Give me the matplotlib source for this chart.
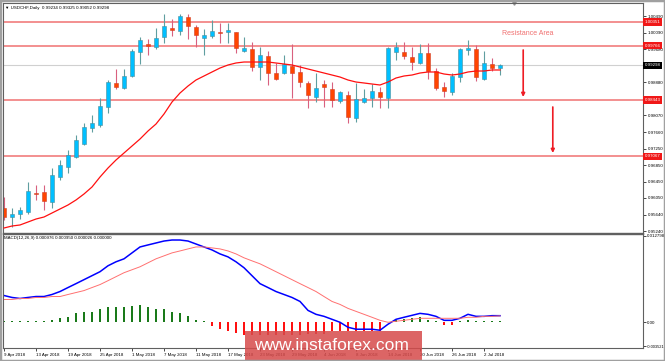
import numpy as np
import pandas as pd
import matplotlib
matplotlib.use('Agg')
import matplotlib.pyplot as plt
import matplotlib.transforms as mtransforms
from matplotlib.patches import Rectangle

plt.rcParams['font.family'] = ['Liberation Sans', 'DejaVu Sans']

# USDCHF daily candles, one per weekday from 9 Apr 2018
opens = [0.95803, 0.95583, 0.95657, 0.95706, 0.96170, 0.96195, 0.95950, 0.96561, 0.96806, 0.97050,
         0.97368, 0.97759, 0.97833, 0.98273, 0.98860, 0.98737, 0.99031, 0.99618, 0.99813, 0.99740,
         0.99984, 1.00204, 1.00131, 1.00473, 1.00229, 0.99960, 1.00009, 1.00107, 1.00107, 1.00107,
         0.99642, 0.99691, 0.99251, 0.99520, 0.99104, 0.99104, 0.99275, 0.99129, 0.98860, 0.98517,
         0.98835, 0.98713, 0.98420, 0.98566, 0.98003, 0.98395, 0.98493, 0.98640, 0.98493, 0.99618,
         0.99618, 0.99495, 0.99349, 0.99593, 0.99153, 0.98762, 0.98640, 0.99006, 0.99667, 0.99691,
         0.98957, 0.99324, 0.99234]
highs = [0.96072, 0.95803, 0.95828, 0.96439, 0.96366, 0.96366, 0.96781, 0.96977, 0.97221, 0.97588,
         0.97882, 0.98077, 0.98493, 0.98933, 0.99202, 0.99202, 0.99691, 0.99984, 0.99935, 1.00204,
         1.00547, 1.00424, 1.00547, 1.00547, 1.00278, 1.00180, 1.00400, 1.00327, 1.00327, 1.00107,
         0.99984, 0.99862, 0.99740, 0.99642, 0.99349, 0.99544, 0.99813, 0.99300, 0.98909, 0.99104,
         0.98933, 0.98884, 0.98664, 0.98664, 0.98860, 0.98713, 0.98835, 0.98762, 0.99740, 0.99862,
         0.99862, 0.99740, 0.99813, 0.99838, 0.99226, 0.98884, 0.99104, 0.99715, 0.99911, 0.99789,
         0.99642, 0.99471, 0.99325]
lows = [0.95510, 0.95339, 0.95534, 0.95657, 0.95999, 0.95755, 0.95803, 0.96488, 0.96659, 0.97026,
        0.97344, 0.97662, 0.97784, 0.98126, 0.98713, 0.98713, 0.99006, 0.99324, 0.99544, 0.99691,
        0.99838, 1.00009, 1.00033, 0.99935, 0.99740, 0.99544, 0.99960, 0.99838, 0.99838, 0.99593,
        0.99618, 0.99153, 0.98933, 0.98811, 0.98933, 0.99080, 0.98493, 0.98762, 0.98248, 0.98395,
        0.98273, 0.98273, 0.98371, 0.97882, 0.97906, 0.98371, 0.98273, 0.98248, 0.98248, 0.99422,
        0.99446, 0.99178, 0.99324, 0.98957, 0.98689, 0.98517, 0.98566, 0.98884, 0.99544, 0.98909,
        0.98933, 0.99153, 0.99052]
closes = [0.95583, 0.95657, 0.95755, 0.96219, 0.96146, 0.95975, 0.96610, 0.96855, 0.97099, 0.97466,
          0.97784, 0.97882, 0.98297, 0.98884, 0.98762, 0.99031, 0.99642, 0.99911, 0.99764, 0.99960,
          1.00253, 1.00156, 1.00497, 1.00253, 1.00033, 1.00033, 1.00131, 1.00082, 1.00156, 0.99715,
          0.99715, 0.99251, 0.99544, 0.99104, 0.98957, 0.99324, 0.99104, 0.98884, 0.98566, 0.98737,
          0.98762, 0.98444, 0.98640, 0.98028, 0.98468, 0.98493, 0.98664, 0.98517, 0.99715, 0.99740,
          0.99520, 0.99373, 0.99593, 0.99153, 0.98737, 0.98664, 0.99031, 0.99691, 0.99715, 0.99006,
          0.99349, 0.99226, 0.99298]
moving_avg = [0.95314, 0.95363, 0.95388, 0.95461, 0.95534, 0.95583, 0.95681, 0.95779, 0.95877, 0.95999,
              0.96146, 0.96317, 0.96561, 0.96781, 0.96977, 0.97148, 0.97319, 0.97490, 0.97686, 0.97857,
              0.98102, 0.98395, 0.98615, 0.98786, 0.98933, 0.99031, 0.99129, 0.99226, 0.99300, 0.99349,
              0.99373, 0.99373, 0.99373, 0.99373, 0.99349, 0.99324, 0.99300, 0.99251, 0.99202, 0.99153,
              0.99104, 0.99055, 0.99006, 0.98933, 0.98884, 0.98860, 0.98835, 0.98811, 0.98884, 0.98982,
              0.99031, 0.99055, 0.99104, 0.99129, 0.99129, 0.99080, 0.99055, 0.99080, 0.99129, 0.99153,
              0.99153, 0.99178, 0.99178]

# MACD(12,26,9)
macd_main = [0.00397, 0.00368, 0.00353, 0.00368, 0.00382, 0.00382, 0.00412, 0.00456, 0.00515, 0.00573,
             0.00632, 0.00691, 0.00750, 0.00838, 0.00897, 0.00941, 0.01029, 0.01117, 0.01147, 0.01176,
             0.01205, 0.01220, 0.01220, 0.01205, 0.01161, 0.01117, 0.01073, 0.01014, 0.00970, 0.00897,
             0.00809, 0.00691, 0.00573, 0.00515, 0.00456, 0.00412, 0.00368, 0.00309, 0.00176, 0.00118,
             0.00088, 0.00044, 0.00000, -0.00074, -0.00103, -0.00103, -0.00103, -0.00118, -0.00029, 0.00044,
             0.00074, 0.00103, 0.00132, 0.00118, 0.00088, 0.00029, 0.00029, 0.00059, 0.00118, 0.00088,
             0.00088, 0.00098, 0.000976]
macd_signal = [0.00338, 0.00338, 0.00353, 0.00353, 0.00368, 0.00368, 0.00382, 0.00382, 0.00412, 0.00441,
               0.00470, 0.00515, 0.00559, 0.00617, 0.00676, 0.00735, 0.00779, 0.00823, 0.00882, 0.00941,
               0.00985, 0.01029, 0.01058, 0.01088, 0.01117, 0.01117, 0.01103, 0.01088, 0.01058, 0.01014,
               0.00956, 0.00911, 0.00867, 0.00809, 0.00750, 0.00691, 0.00632, 0.00573, 0.00515, 0.00456,
               0.00382, 0.00309, 0.00265, 0.00206, 0.00162, 0.00118, 0.00074, 0.00029, 0.00000, 0.00015,
               0.00029, 0.00044, 0.00059, 0.00059, 0.00059, 0.00059, 0.00059, 0.00059, 0.00074, 0.00074,
               0.00088, 0.00088, 0.00095]
macd_hist = [0.00015, 0.00015, 0.00015, 0.00015, 0.00015, 0.00015, 0.00034, 0.00059, 0.00084, 0.00132,
             0.00157, 0.00157, 0.00191, 0.00221, 0.00221, 0.00221, 0.00240, 0.00250, 0.00231, 0.00201,
             0.00191, 0.00157, 0.00132, 0.00098, 0.00034, 0.00015, -0.00059, -0.00103, -0.00122, -0.00162,
             -0.00187, -0.00187, -0.00187, -0.00185, -0.00185, -0.00184, -0.00184, -0.00182, -0.00180, -0.00178,
             -0.00175, -0.00132, -0.00132, -0.00132, -0.00132, -0.00132, -0.00132, -0.00132, 0.00003, 0.00040,
             0.00049, 0.00063, 0.00074, 0.00040, 0.00015, -0.00034, -0.00034, 0.00015, 0.00040, 0.00015,
             0.00015, 0.00015, 0.00015]

levels = [1.00351, 0.99766, 0.98443, 0.97067]
last_price = 0.99298
price_ticks = [1.00490, 1.00090, 0.99680, 0.98880, 0.98070, 0.97660, 0.97250, 0.96850,
               0.96450, 0.96050, 0.95640, 0.95240]
tick_dates = ['2018-04-09', '2018-04-13', '2018-04-19', '2018-04-25', '2018-05-01', '2018-05-07',
              '2018-05-11', '2018-05-17', '2018-05-23', '2018-05-29', '2018-06-04', '2018-06-08',
              '2018-06-14', '2018-06-20', '2018-06-26', '2018-07-02']

dates = pd.bdate_range('2018-04-09', periods=len(closes))
idx = np.arange(len(closes))
o, h, l, c = map(np.array, (opens, highs, lows, closes))
up = c >= o

W, H = 665, 361
def box(left, top, right, bottom):
    return [left / W, 1 - bottom / H, (right - left) / W, (bottom - top) / H]

fig = plt.figure(figsize=(W / 100, H / 100), dpi=100)
ax = fig.add_axes(box(3, 3, 643, 233))
ax2 = fig.add_axes(box(3, 234, 643, 348), sharex=ax)

small = 3.2

# --- price panel ---
for lv in levels:
    ax.axhline(lv, color='#f07272', lw=1.1, zorder=0)
ax.axhline(last_price, color='#d0d0d0', lw=0.8, zorder=0)

wick_col = np.where(up, '#5f9ea0', '#d9607f')
ax.vlines(idx, l, h, colors=wick_col, lw=0.8, zorder=1)
body_h = np.maximum(np.abs(c - o), 0.00012)
ax.bar(idx, body_h, bottom=np.minimum(o, c), width=0.62,
       color=np.where(up, '#00bfff', '#ff4500'),
       edgecolor=np.where(up, '#4b8f9a', '#d0402a'), linewidth=0.4, zorder=2)
ax.plot(idx, moving_avg, color='#ff1010', lw=0.9, zorder=3)

ax.set_xlim(-0.125, 79.875)
ax.set_ylim(0.95192, 1.00816)

blend = mtransforms.blended_transform_factory(ax.transAxes, ax.transData)
for lv in levels:
    ax.text(1.003, lv, f'{lv:.5f}', transform=blend, ha='left', va='center', fontsize=small,
            color='white', bbox=dict(boxstyle='square,pad=0.35', fc='#f01818', ec='none'), clip_on=False)
ax.text(1.003, last_price, f'{last_price:.5f}', transform=blend, ha='left', va='center', fontsize=small,
        color='white', bbox=dict(boxstyle='square,pad=0.35', fc='black', ec='none'), clip_on=False)

ax.text(0.003, 0.988, '\u25bc USDCHF,Daily  0.99234 0.99325 0.99052 0.99298', transform=ax.transAxes,
        ha='left', va='top', fontsize=small)
ax.plot([63.75], [1.0], transform=mtransforms.blended_transform_factory(ax.transData, ax.transAxes),
        marker='v', ms=2.5, color='#909090', clip_on=False)

ax.text(65.5, 1.00058, 'Resistance Area', ha='center', va='center', fontsize=5, color='#f07070')
arrow = dict(arrowstyle='-|>', color='#ee1c25', lw=1.2, mutation_scale=5, shrinkA=0, shrinkB=0)
ax.annotate('', xy=(64.9, 0.98517), xytext=(64.9, 0.99667), arrowprops=arrow)
ax.annotate('', xy=(68.6, 0.97148), xytext=(68.6, 0.98273), arrowprops=arrow)

ax.yaxis.tick_right()
ax.set_yticks(price_ticks)
ax.set_yticklabels([f'{t:.5f}' for t in price_ticks])
ax.tick_params(axis='y', length=2, width=0.5, pad=1.5, labelsize=small)
ax.tick_params(axis='x', bottom=False, labelbottom=False)

# --- MACD panel ---
ax2.bar(idx, macd_hist, width=0.28, color=np.where(np.array(macd_hist) >= 0, '#1a7a1a', '#ff1010'))
ax2.plot(idx, macd_main, color='#0000ff', lw=1.1)
ax2.plot(idx, macd_signal, color='#ff7070', lw=0.7)
ax2.set_ylim(-0.003815, 0.013092)
ax2.yaxis.tick_right()
ax2.set_yticks([0.012798, 0.0, -0.003521])
ax2.set_yticklabels(['0.012798', '0.00', '-0.003521'])
ax2.tick_params(axis='y', length=2, width=0.5, pad=1.0, labelsize=small)
ax2.get_yticklabels()[-1].set_fontsize(2.9)
ax2.text(0.002, 0.985, 'MACD(12,26,9) 0.000976 0.000950 0.000026 0.000000', transform=ax2.transAxes,
         ha='left', va='top', fontsize=small)

tick_pos = dates.get_indexer(pd.to_datetime(tick_dates))
ax2.set_xticks(tick_pos)
ax2.set_xticklabels([f'{d.day} {d:%b %Y}' for d in pd.to_datetime(tick_dates)])
ax2.tick_params(axis='x', length=2, width=0.5, pad=1.5, labelsize=small)
for lbl in ax2.get_xticklabels():
    lbl.set_ha('left')

for a in (ax, ax2):
    for s in a.spines.values():
        s.set_color('#606060')
        s.set_linewidth(0.8)
ax.spines['bottom'].set_linewidth(1.0)
ax2.spines['top'].set_linewidth(1.0)

# watermark and outer frame
fig.patches.append(Rectangle((245 / W, 0), (422 - 245) / W, (361 - 331) / H, transform=fig.transFigure,
                             fc='#d64a4a', ec='none', alpha=0.85, zorder=10))
fig.text(331 / W, 1 - 346 / H, 'www.instaforex.com', ha='center', va='center', color='white',
         fontsize=12.5, zorder=11)
fig.patches.append(Rectangle((0, 0), 1, 1, transform=fig.transFigure, fill=False,
                             ec='#a0a0a0', lw=2.5, zorder=12))

fig.savefig('out.png', dpi=100)
